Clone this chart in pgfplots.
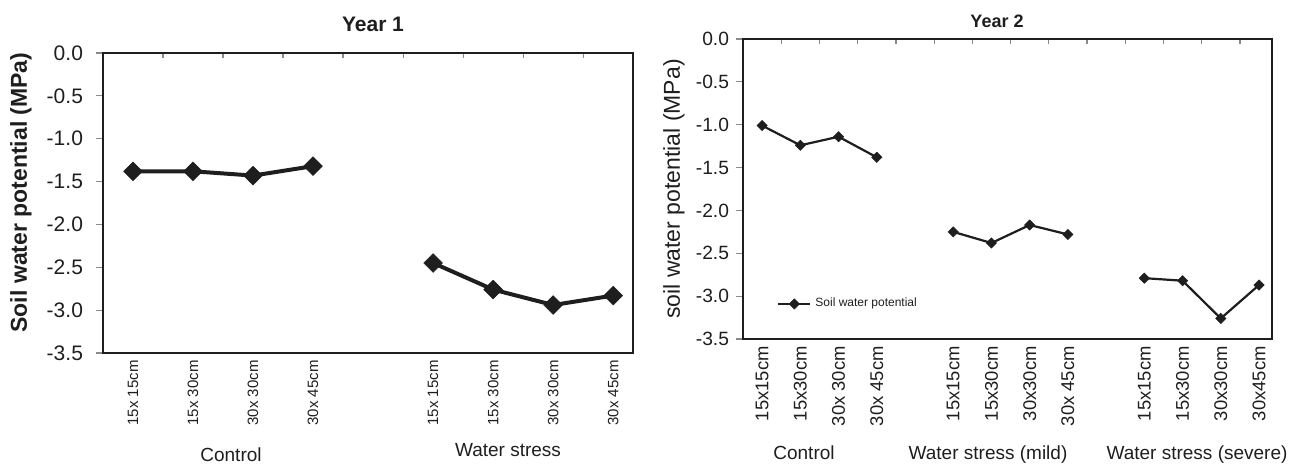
\documentclass[border=0pt]{standalone}
\usepackage{fontspec}
\setmainfont{Liberation Sans}
\usepackage{pgfplots}
\usepackage{pgfplotstable}
\pgfplotsset{compat=1.18}

\definecolor{ink}{HTML}{1E1E1E}
\definecolor{tickgray}{HTML}{8A8A8A}

% Year 1 (x = category slot, gap between groups)
\pgfplotstableread{
x y
0 -1.38
1 -1.38
2 -1.43
3 -1.32
}\yoneControl
\pgfplotstableread{
x y
5 -2.45
6 -2.76
7 -2.94
8 -2.83
}\yoneStress

% Year 2
\pgfplotstableread{
x y
0 -1.01
1 -1.24
2 -1.14
3 -1.38
}\ytwoControl
\pgfplotstableread{
x y
5 -2.25
6 -2.38
7 -2.17
8 -2.28
}\ytwoMild
\pgfplotstableread{
x y
10 -2.79
11 -2.82
12 -3.26
13 -2.87
}\ytwoSevere

\pgfplotsset{
  swp/.style={
    scale only axis,
    anchor=south west,
    clip=false,
    tick align=outside,
    axis line style={ink, line width=1pt},
    ytick pos=left,
    xtick pos=right,
    xticklabel pos=left,
    ymin=-3.5, ymax=0,
    ytick={-3.5,-3,-2.5,-2,-1.5,-1,-0.5,0},
    yticklabels={-3.5,-3.0,-2.5,-2.0,-1.5,-1.0,-0.5,0.0},
    major tick length=3.5pt,
    minor tick length=2.5pt,
    y tick style={tickgray, line width=0.6pt},
    major x tick style={draw=none},
    minor x tick style={tickgray, line width=0.6pt, yshift=-2.5pt},
    xticklabel style={rotate=90, anchor=east, inner sep=0pt, text=ink},
    yticklabel style={text=ink},
  },
  grp/.style={ink, mark=square*, mark options={solid, rotate=45, fill=ink, draw=ink, line width=0.3pt}},
}

\begin{document}
\begin{tikzpicture}

\begin{axis}[swp,
    at={(51.5pt,55pt)}, width=265pt, height=150pt,
    xmin=-0.5, xmax=8.33,
    xtick={0,1,2,3,5,6,7,8},
    xticklabels={15x 15cm,15x 30cm,30x 30cm,30x 45cm,15x 15cm,15x 30cm,30x 30cm,30x 45cm},
    minor xtick={0.5,1.5,2.5,3.5,4.5,5.5,6.5,7.5},
    xticklabel style={font=\fontsize{7.5}{9}\selectfont},
    yticklabel style={font=\fontsize{10.5}{12}\selectfont, xshift=-3pt},
  ]
  \addplot[grp, line width=2pt, mark size=3.3pt] table[x=x,y=y] {\yoneControl};
  \addplot[grp, line width=2pt, mark size=3.3pt] table[x=x,y=y] {\yoneStress};
\end{axis}

\begin{axis}[swp,
    at={(371.5pt,62pt)}, width=264.5pt, height=150pt,
    xmin=-0.5, xmax=13.34,
    xtick={0,1,2,3,5,6,7,8,10,11,12,13},
    xticklabels={15x15cm,15x30cm,30x 30cm,30x 45cm,15x15cm,15x30cm,30x30cm,30x 45cm,15x15cm,15x30cm,30x30cm,30x45cm},
    minor xtick={0.5,1.5,2.5,3.5,4.5,5.5,6.5,7.5,8.5,9.5,10.5,11.5,12.5},
    xticklabel style={font=\fontsize{9.2}{11}\selectfont},
    yticklabel style={font=\fontsize{9.6}{11}\selectfont},
    legend style={at={(0.064,0.117)}, anchor=west, draw=none, fill=none,
      inner sep=0pt, font=\fontsize{6}{7}\selectfont, text=ink},
    legend image code/.code={%
      \draw[#1, mark repeat=2, mark phase=2] plot coordinates {(0pt,0pt) (8pt,0pt) (16pt,0pt)};},
  ]
  \addplot[grp, line width=1.1pt, mark size=1.8pt] table[x=x,y=y] {\ytwoControl};
  \addlegendentry{Soil water potential}
  \addplot[grp, line width=1.1pt, mark size=1.8pt, forget plot] table[x=x,y=y] {\ytwoMild};
  \addplot[grp, line width=1.1pt, mark size=1.8pt, forget plot] table[x=x,y=y] {\ytwoSevere};
\end{axis}

% titles, axis titles and group names
\node[font=\bfseries\fontsize{10.5}{12}\selectfont, text=ink, anchor=base] at (186.5pt,215.6pt) {Year 1};
\node[font=\bfseries\fontsize{9}{11}\selectfont, text=ink, anchor=base] at (498.5pt,217.8pt) {Year 2};
\node[rotate=90, font=\bfseries\fontsize{11.5}{13}\selectfont, text=ink] at (10.5pt,135.25pt) {Soil water potential (MPa)};
\node[rotate=90, font=\fontsize{11.5}{13}\selectfont, text=ink] at (337pt,137pt) {soil water potential (MPa)};

\node[font=\fontsize{9.5}{11}\selectfont, text=ink, anchor=base] at (115.5pt,0.8pt) {Control};
\node[font=\fontsize{9.5}{11}\selectfont, text=ink, anchor=base] at (254pt,3.5pt) {Water stress};
\node[font=\fontsize{9.5}{11}\selectfont, text=ink, anchor=base] at (402pt,2pt) {Control};
\node[font=\fontsize{9.5}{11}\selectfont, text=ink, anchor=base] at (494pt,2pt) {Water stress (mild)};
\node[font=\fontsize{9.5}{11}\selectfont, text=ink, anchor=base] at (598.5pt,2pt) {Water stress (severe)};

\pgfresetboundingbox
\path[use as bounding box] (0,0) rectangle (644.5pt,231.5pt);
\end{tikzpicture}
\end{document}
